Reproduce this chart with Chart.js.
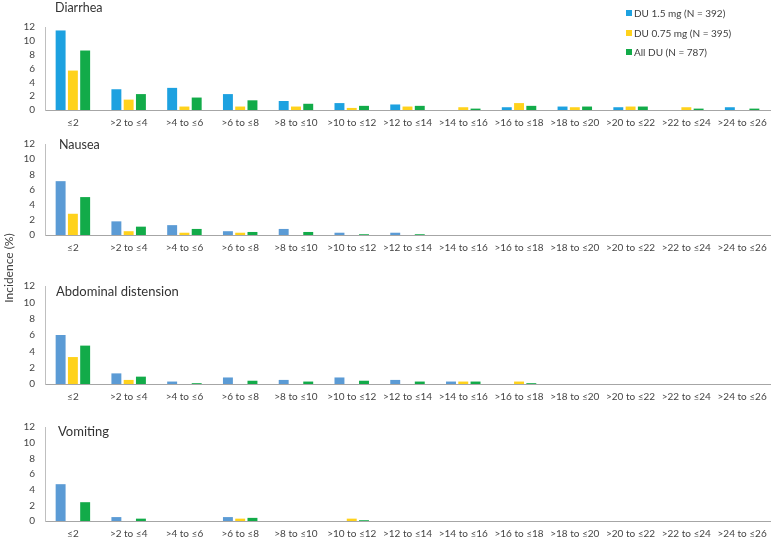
<!DOCTYPE html>
<html>
<head>
<meta charset="utf-8">
<script src="https://cdn.jsdelivr.net/npm/chart.js@4.4.1/dist/chart.umd.min.js"></script>
<style>
  html, body { margin: 0; padding: 0; background: #fff; width: 783px; height: 538px; overflow: hidden; }
  body { position: relative; font-family: Lato, 'DejaVu Sans', sans-serif; }
  canvas.panel { position: absolute; left: 0; }
  .ptitle { position: absolute; color: #333; line-height: 1; white-space: nowrap; }
  .legend { position: absolute; left: 626px; top: 6px; font-size: 10px; color: #404040; }
  .legend div { height: 19.5px; line-height: 14px; white-space: nowrap; }
  .legend span.sw { display: inline-block; width: 6px; height: 6px; margin-right: 2px; vertical-align: 1px; }
  .ytitle { position: absolute; left: 8px; top: 268px; font-size: 12px; color: #404040; white-space: nowrap;
            transform: translate(-50%, -50%) rotate(-90deg); }
</style>
</head>
<body>
<script>
// ---- data ----
const categories = ['≤2', '>2 to ≤4', '>4 to ≤6', '>6 to ≤8', '>8 to ≤10', '>10 to ≤12', '>12 to ≤14',
  '>14 to ≤16', '>16 to ≤18', '>18 to ≤20', '>20 to ≤22', '>22 to ≤24', '>24 to ≤26'];
const seriesNames = ['DU 1.5 mg (N = 392)', 'DU 0.75 mg (N = 395)', 'All DU (N = 787)'];
const yTicks = [0, 2, 4, 6, 8, 10, 12];

const diarrhea15  = [11.5, 3.0, 3.2, 2.3, 1.3, 1.0, 0.8, 0, 0.4, 0.5, 0.4, 0, 0.4];
const diarrhea075 = [5.7, 1.5, 0.5, 0.5, 0.5, 0.3, 0.5, 0.4, 1.0, 0.4, 0.5, 0.4, 0];
const diarrheaAll = [8.6, 2.3, 1.8, 1.4, 0.9, 0.6, 0.6, 0.2, 0.6, 0.5, 0.5, 0.2, 0.2];

const nausea15  = [7.1, 1.8, 1.3, 0.5, 0.8, 0.3, 0.3, 0, 0, 0, 0, 0, 0];
const nausea075 = [2.8, 0.5, 0.3, 0.3, 0, 0, 0, 0, 0, 0, 0, 0, 0];
const nauseaAll = [5.0, 1.1, 0.8, 0.4, 0.4, 0.1, 0.1, 0, 0, 0, 0, 0, 0];

const abdominal15  = [6.0, 1.3, 0.3, 0.8, 0.5, 0.8, 0.5, 0.3, 0, 0, 0, 0, 0];
const abdominal075 = [3.3, 0.5, 0, 0, 0, 0, 0, 0.3, 0.3, 0, 0, 0, 0];
const abdominalAll = [4.7, 0.9, 0.1, 0.4, 0.3, 0.4, 0.3, 0.3, 0.1, 0, 0, 0, 0];

const vomiting15  = [4.7, 0.5, 0, 0.5, 0, 0, 0, 0, 0, 0, 0, 0, 0];
const vomiting075 = [0, 0, 0, 0.3, 0, 0.3, 0, 0, 0, 0, 0, 0, 0];
const vomitingAll = [2.4, 0.3, 0, 0.4, 0, 0.1, 0, 0, 0, 0, 0, 0, 0];

const panelTitles = ['Diarrhea', 'Nausea', 'Abdominal distension', 'Vomiting'];

// ---- styles ----
const BLUE_BRIGHT = '#1da1e0';
const BLUE = '#5b9bd5';
const YELLOW = '#ffd21c';
const GREEN = '#12ab49';
const FONT = "Lato, 'DejaVu Sans', sans-serif";

const panels = [
  { title: panelTitles[0], data: [diarrhea15, diarrhea075, diarrheaAll], blue: BLUE_BRIGHT, y12: 19, y0: 110,
    tx: 55, ty: 2, ts: 12.5 },
  { title: panelTitles[1], data: [nausea15, nausea075, nauseaAll], blue: BLUE, y12: 136, y0: 235,
    tx: 59, ty: 139, ts: 12.5 },
  { title: panelTitles[2], data: [abdominal15, abdominal075, abdominalAll], blue: BLUE, y12: 278, y0: 384,
    tx: 56, ty: 285, ts: 13 },
  { title: panelTitles[3], data: [vomiting15, vomiting075, vomitingAll], blue: BLUE, y12: 419, y0: 521,
    tx: 58, ty: 425, ts: 13 },
];

const PAD_TOP = 8;
const XAXIS_H = 20;

panels.forEach((p, i) => {
  const top = p.y12 - PAD_TOP;
  const h = (p.y0 - top) + XAXIS_H;
  const cv = document.createElement('canvas');
  cv.className = 'panel';
  cv.style.top = top + 'px';
  cv.style.width = '783px';
  cv.style.height = h + 'px';
  cv.width = 783; cv.height = h;
  document.body.appendChild(cv);

  const t = document.createElement('div');
  t.className = 'ptitle';
  t.textContent = p.title;
  t.style.left = p.tx + 'px';
  t.style.top = p.ty + 'px';
  t.style.fontSize = p.ts + 'px';
  document.body.appendChild(t);

  const colors = [p.blue, YELLOW, GREEN];
  new Chart(cv, {
    type: 'bar',
    data: {
      labels: categories,
      datasets: p.data.map((d, k) => ({
        label: seriesNames[k],
        data: d,
        backgroundColor: colors[k],
        borderWidth: 0,
        categoryPercentage: 0.66,
        barPercentage: 0.81,
      })),
    },
    options: {
      responsive: false,
      animation: false,
      events: [],
      layout: { padding: { top: PAD_TOP, right: 13, bottom: 0, left: 0 } },
      plugins: { legend: { display: false }, tooltip: { enabled: false }, title: { display: false } },
      scales: {
        x: {
          grid: { display: false, drawTicks: false },
          border: { display: true, color: '#a6a6a6', width: 1 },
          ticks: { color: '#454545', font: { family: FONT, size: 10 }, padding: 7, maxRotation: 0, autoSkip: false },
          afterFit: (s) => { s.height = XAXIS_H; },
        },
        y: {
          min: 0, max: 12,
          afterBuildTicks: (s) => { s.ticks = yTicks.map(v => ({ value: v })); },
          grid: { display: false, drawTicks: false },
          border: { display: true, color: '#bfbfbf', width: 1 },
          ticks: { color: '#454545', font: { family: FONT, size: 10 }, padding: 10, autoSkip: false },
          afterFit: (s) => { s.width = 45; },
        },
      },
    },
  });
});

// legend
const lg = document.createElement('div');
lg.className = 'legend';
[BLUE_BRIGHT, YELLOW, GREEN].forEach((c, k) => {
  const row = document.createElement('div');
  const sw = document.createElement('span');
  sw.className = 'sw';
  sw.style.background = c;
  row.appendChild(sw);
  row.appendChild(document.createTextNode(seriesNames[k]));
  lg.appendChild(row);
});
document.body.appendChild(lg);

// y-axis title
const yt = document.createElement('div');
yt.className = 'ytitle';
yt.textContent = 'Incidence (%)';
document.body.appendChild(yt);
</script>
</body>
</html>
